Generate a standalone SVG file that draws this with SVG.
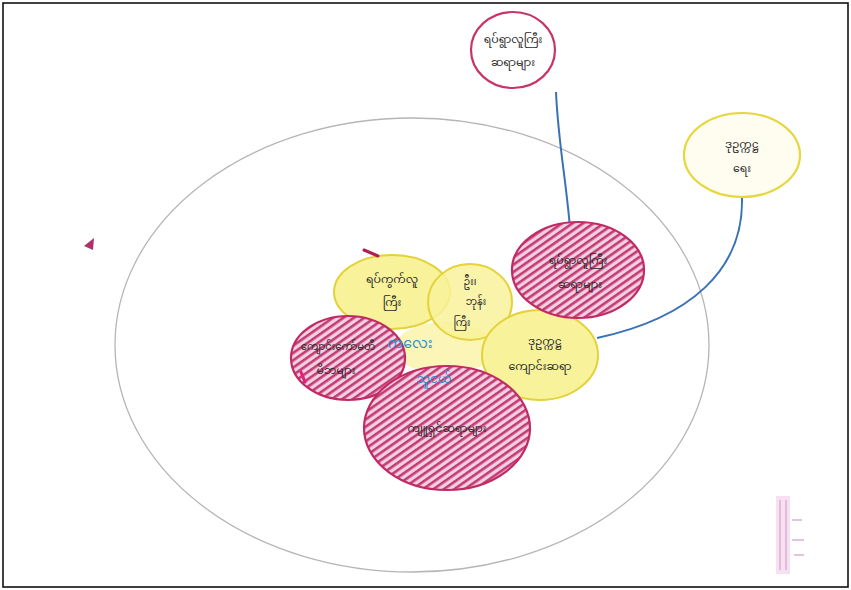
<svg xmlns="http://www.w3.org/2000/svg" width="851" height="590" viewBox="0 0 851 590">
<style>
.bg{fill:#ffffff}
.frame{fill:none;stroke:#111;stroke-width:1.6}
.outer{fill:none;stroke:#b8b4b4;stroke-width:1.3}
.red{fill:#ffffff;stroke:#c8336a;stroke-width:2.2}
.ylw{fill:#fffdf0;stroke:#e6d640;stroke-width:2.2}
.ylwf{fill:#f8f29a;stroke:#e3d23a;stroke-width:2}
.hatch{fill:url(#hp);stroke:#c22a63;stroke-width:2.2}
.conn{fill:none;stroke:#3a72b4;stroke-width:2}
.t{font-family:"Noto Sans Myanmar","Padauk","Myanmar Text","Noto Sans",sans-serif;font-size:11px;fill:#2a2a2a;text-anchor:middle}
.tb{font-family:"Noto Sans Myanmar","Padauk","Myanmar Text","Noto Sans",sans-serif;font-size:14px;fill:#2e8fd0;text-anchor:middle}
.mark{fill:#b0306a}
</style>
<defs>
<pattern id="hp" width="6" height="6" patternUnits="userSpaceOnUse" patternTransform="rotate(-35)">
<rect width="6" height="6" fill="#f3d0e0"/>
<rect width="6" height="2.6" fill="#c23a76"/>
</pattern>
</defs>
<rect class="bg" width="851" height="590"/>
<rect class="frame" x="3" y="3" width="845" height="584"/>
<ellipse class="outer" cx="412" cy="345" rx="297" ry="227"/>
<ellipse cx="445" cy="348" rx="50" ry="26" fill="#fbf6b8"/>
<g id="connectors">
<path class="conn" d="M556,92 C558,140 566,180 570,228"/>
<path class="conn" d="M742,197 C744,270 690,318 597,338"/>
</g>
<g id="top-red">
<ellipse class="red" cx="513" cy="50" rx="42" ry="38"/>
<text class="t" x="513" y="43">ရပ်ရွာလူကြီး</text>
<text class="t" x="513" y="66">ဆရာများ</text>
</g>
<g id="top-yellow">
<ellipse class="ylw" cx="742" cy="155" rx="58" ry="42"/>
<text class="t" x="742" y="148">ဒုဥက္ကဋ္ဌ</text>
<text class="t" x="742" y="172">ရေး</text>
</g>
<g id="yellow-left">
<ellipse class="ylwf" cx="392" cy="292" rx="58" ry="37"/>
<text class="t" x="392" y="283">ရပ်ကွက်လူ</text>
<text class="t" x="392" y="306">ကြီး</text>
</g>
<g id="yellow-small">
<ellipse class="ylwf" cx="470" cy="302" rx="42" ry="38" style="fill-opacity:0.85"/>
<text class="t" x="470" y="285" style="font-size:10px">ဦး၊</text>
<text class="t" x="476" y="305" style="font-size:10px">ဘုန်း</text>
<text class="t" x="462" y="326" style="font-size:10px">ကြီး</text>
</g>
<g id="yellow-right">
<ellipse class="ylwf" cx="540" cy="355" rx="58" ry="45"/>
<text class="t" x="545" y="345">ဒုဥက္ကဋ္ဌ</text>
<text class="t" x="540" y="370">ကျောင်းဆရာ</text>
</g>
<g id="red-right">
<ellipse class="hatch" cx="578" cy="270" rx="66" ry="48"/>
<text class="t" x="578" y="264">ရပ်ရွာလူကြီး</text>
<text class="t" x="580" y="288">ဆရာများ</text>
</g>
<g id="red-left">
<ellipse class="hatch" cx="348" cy="358" rx="57" ry="42"/>
<text class="t" x="338" y="350" style="font-size:10px">ကျောင်းကော်မတီ</text>
<text class="t" x="336" y="374">မိဘများ</text>
</g>
<g id="red-bottom">
<ellipse class="hatch" cx="447" cy="428" rx="83" ry="62"/>
<text class="t" x="447" y="432">ကျူရှင်ဆရာများ</text>
</g>
<g id="center">
<text class="tb" x="410" y="348">ကလေး</text>
<text class="tb" x="434" y="383" style="font-size:12px">သူငယ်</text>
</g>
<path class="mark" d="M84,246 L94,238 L93,250 Z"/>
<path d="M364,250 L378,256" stroke="#b02050" stroke-width="3" stroke-linecap="round"/>
<path d="M301,372 L305,382" stroke="#e0207a" stroke-width="3" stroke-linecap="round"/>
<g opacity="0.55">
<rect x="776" y="496" width="14" height="78" fill="#f0c8e8"/>
<path d="M780,500 v70 M786,500 v70 M792,520 h10 M792,540 h12 M794,555 h10" stroke="#c070b0" stroke-width="1.5"/>
</g>
</svg>
